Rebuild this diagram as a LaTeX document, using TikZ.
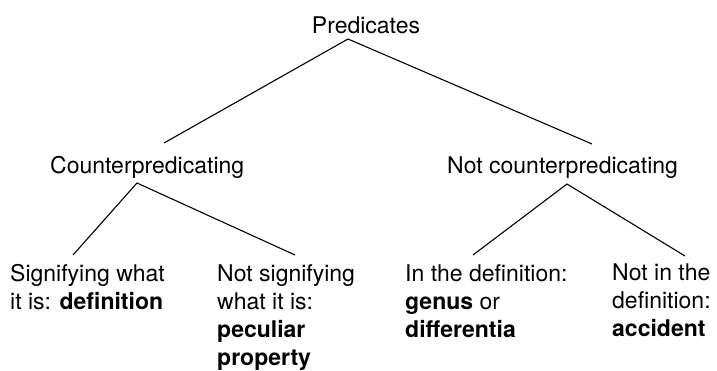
\documentclass[tikz,border=0pt]{standalone}
\usepackage{fontspec}
\setmainfont{TeX Gyre Heros}
\begin{document}
\begin{tikzpicture}[
  x=1pt, y=-1pt,
  every node/.style={font=\fontsize{23}{27}\selectfont, inner sep=0pt},
  leaf/.style={align=left, anchor=north west, font=\fontsize{23}{28}\selectfont},
  branch/.style={line width=1.1pt}
]
\useasboundingbox (0,0) rectangle (717,370);
\node[anchor=base] (pred) at (366,33) {Predicates};
\node[anchor=base west] (cp) at (50,173) {Counterpredicating};
\node[anchor=base west] (ncp) at (447,173) {Not counterpredicating};
\node[leaf] (sig) at (10,264) {Signifying what\\it is: \textbf{definition}};
\node[leaf] (nsig) at (217,264) {Not signifying\\what it is:\\\textbf{peculiar}\\\textbf{property}};
\node[leaf] (indef) at (405,264) {In the definition:\\\textbf{genus} or\\\textbf{differentia}};
\node[leaf] (nindef) at (612,264) {Not in the\\definition:\\\textbf{accident}};
% forks under the parent labels
\coordinate (pfork) at (348,39);
\coordinate (cfork) at (137,183);
\coordinate (nfork) at (567,184);
\draw[branch] ([xshift=114pt,yshift=30pt]cp.base west) -- (pfork) -- ([xshift=145pt,yshift=29pt]ncp.base west);
\draw[branch] ([xshift=63pt,yshift=9pt]sig.north west) -- (cfork) -- ([xshift=78pt,yshift=9pt]nsig.north west);
\draw[branch] ([xshift=68pt,yshift=9pt]indef.north west) -- (nfork) -- ([xshift=73pt,yshift=8pt]nindef.north west);
\end{tikzpicture}
\end{document}
